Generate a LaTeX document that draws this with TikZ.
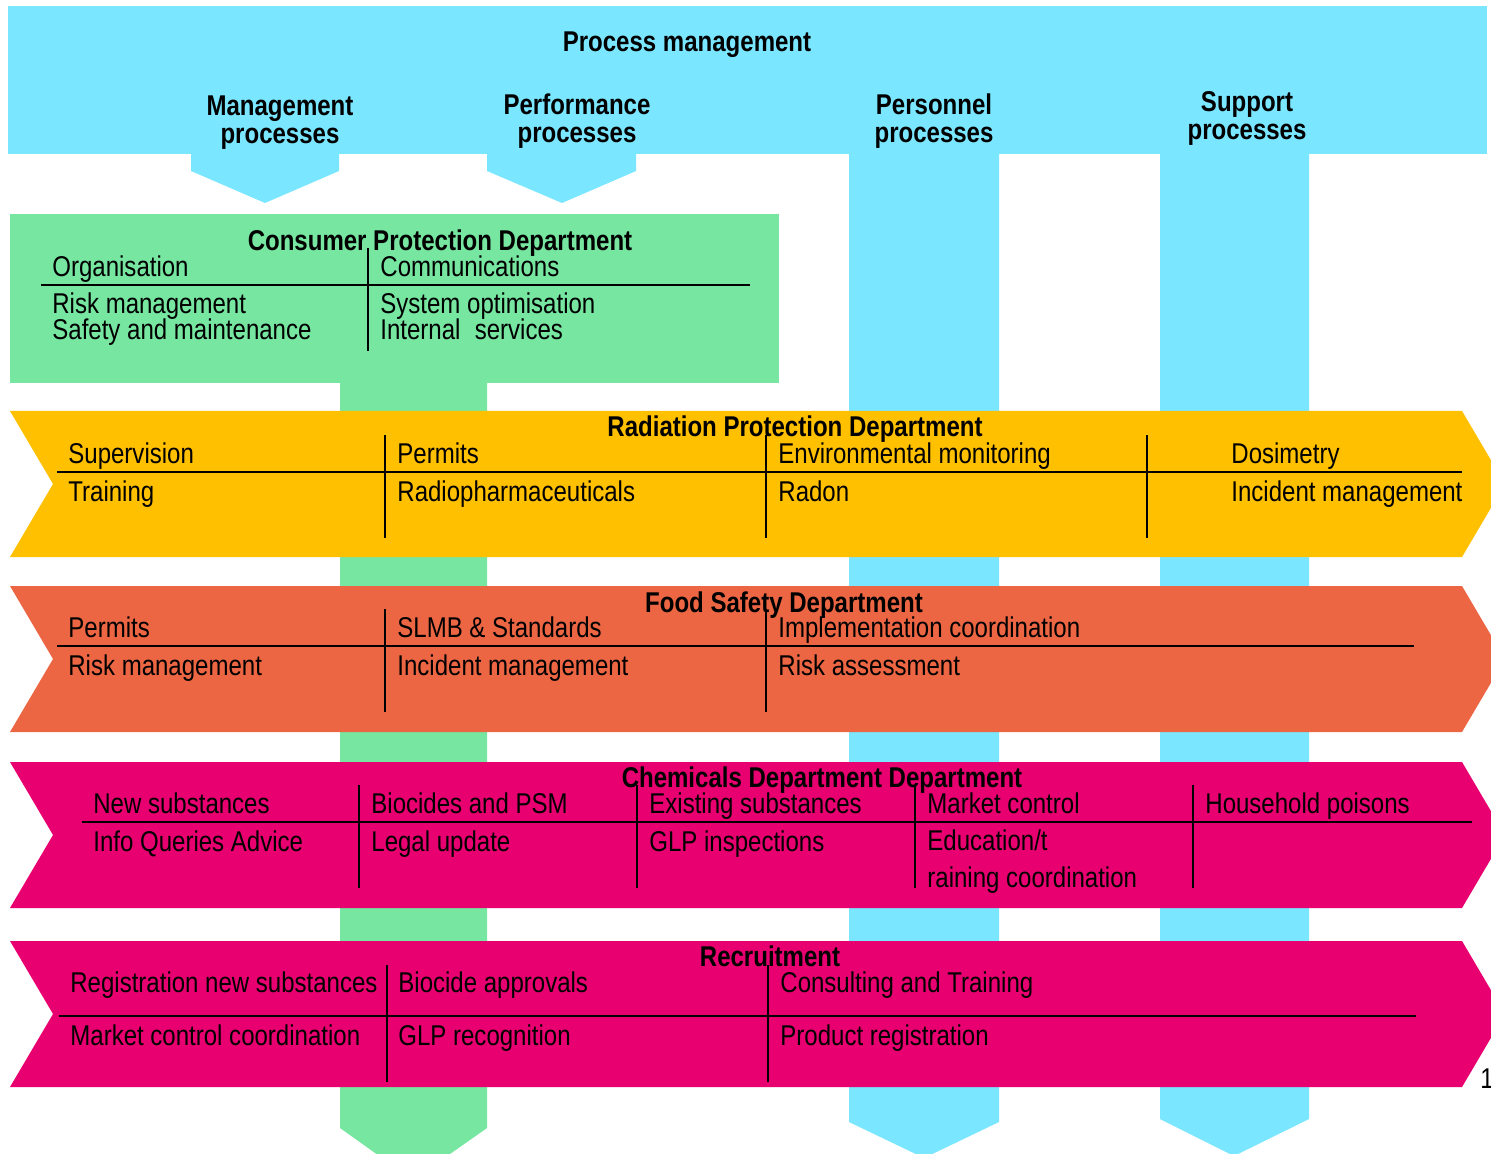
\documentclass[tikz,border=0pt]{standalone}
\usepackage{fontspec}
\setmainfont[FakeStretch=0.84]{Liberation Sans}
\usepackage{tikz}

\definecolor{procblue}{RGB}{122,230,255}
\definecolor{consgreen}{RGB}{118,230,160}
\definecolor{radyellow}{RGB}{255,192,0}
\definecolor{foodorange}{RGB}{236,102,68}
\definecolor{chemmagenta}{RGB}{232,0,112}

\tikzset{
  item/.style={anchor=base west, inner sep=0pt, font=\fontsize{14.3}{12.6}\selectfont},
  head/.style={anchor=base, inner sep=0pt, font=\fontsize{14.3}{12.6}\selectfont\bfseries},
  tab/.style={anchor=north, align=center, inner sep=0pt, font=\fontsize{14.3}{14}\selectfont\bfseries},
  divider/.style={line width=0.9pt},
}

\begin{document}
\begin{tikzpicture}[x=0.5pt, y=-0.5pt]

  \newcommand\XL{10};
  \newcommand\XN{53};
  \newcommand\XR{1462};
  \newcommand\XT{1505};

  \useasboundingbox (0,0) rectangle (1491,1154);
  \clip (0,0) rectangle (1491,1154);

  % columns behind the departments
  \fill[consgreen] (340,380) -- (487,380) -- (487,1128) -- (413,1180) -- (340,1128) -- cycle;
  \fill[procblue] (849,150) -- (999,150) -- (999,1122) -- (924,1158) -- (849,1122) -- cycle;
  \fill[procblue] (1160,150) -- (1309,150) -- (1309,1119) -- (1234,1156) -- (1160,1119) -- cycle;

  % process management
  \fill[procblue] (8,6) rectangle (1487,154);
  \fill[procblue] (191,150) -- (339,150) -- (339,171) -- (265,203) -- (191,171) -- cycle;
  \fill[procblue] (487,150) -- (636,150) -- (636,171) -- (562,203) -- (487,171) -- cycle;

  \node[head] (pm) at (687,52) {Process management};
  \node[tab] (pm-mgmt) at (280,95) {Management\\processes};
  \node[tab] (pm-perf) at (577,93) {Performance\\processes};
  \node[tab] (pm-pers) at (934,93) {Personnel\\processes};
  \node[tab] (pm-supp) at (1247,91) {Support\\processes};

  % consumer protection
  \fill[consgreen] (10,214) rectangle (779,383);
  \draw[divider] (41,285) -- (750,285);
  \draw[divider] (368,248) -- (368,351);
  \node[head] (cp) at (440,251) {Consumer Protection Department};
  \node[item] (cp-org) at (52,277) {Organisation};
  \node[item] (cp-risk) at (52,314) {Risk management};
  \node[item] (cp-safe) at (52,340) {Safety and maintenance};
  \node[item] (cp-comm) at (380,277) {Communications};
  \node[item] (cp-sys) at (380,314) {System optimisation};
  \node[item] (cp-int) at (380,340) {Internal\enspace services};

  % radiation protection
  \fill[radyellow] (\XL,411) -- (\XR,411) -- (\XT,484) -- (\XR,557) -- (\XL,557) -- (\XN,484) -- cycle;
  \draw[divider] (57,472) -- (\XR,472);
  \draw[divider] (385,435) -- (385,538);
  \draw[divider] (766,435) -- (766,538);
  \draw[divider] (1147,435) -- (1147,538);
  \node[head] (rp) at (795,437) {Radiation Protection Department};
  \node[item] (rp-sup) at (68,463) {Supervision};
  \node[item] (rp-train) at (68,501) {Training};
  \node[item] (rp-perm) at (397,463) {Permits};
  \node[item] (rp-pharm) at (397,501) {Radiopharmaceuticals};
  \node[item] (rp-env) at (778,463) {Environmental monitoring};
  \node[item] (rp-radon) at (778,501) {Radon};
  \node[item] (rp-dos) at (1231,463) {Dosimetry};
  \node[item] (rp-inc) at (1231,501) {Incident management};

  % food safety
  \fill[foodorange] (\XL,586) -- (\XR,586) -- (\XT,659) -- (\XR,732) -- (\XL,732) -- (\XN,659) -- cycle;
  \draw[divider] (57,646) -- (1414,646);
  \draw[divider] (385,609) -- (385,712);
  \draw[divider] (766,609) -- (766,712);
  \node[head] (fs) at (784,612) {Food Safety Department};
  \node[item] (fs-perm) at (68,637) {Permits};
  \node[item] (fs-risk) at (68,675) {Risk management};
  \node[item] (fs-slmb) at (397,637) {SLMB \& Standards};
  \node[item] (fs-inc) at (397,675) {Incident management};
  \node[item] (fs-impl) at (778,637) {Implementation coordination};
  \node[item] (fs-ass) at (778,675) {Risk assessment};

  % chemicals
  \fill[chemmagenta] (\XL,762) -- (\XR,762) -- (\XT,835) -- (\XR,908) -- (\XL,908) -- (\XN,835) -- cycle;
  \draw[divider] (82,822) -- (1472,822);
  \draw[divider] (359,785) -- (359,888);
  \draw[divider] (637,785) -- (637,888);
  \draw[divider] (915,785) -- (915,888);
  \draw[divider] (1193,785) -- (1193,888);
  \node[head] (ch) at (822,787) {Chemicals Department Department};
  \node[item] (ch-new) at (93,813) {New substances};
  \node[item] (ch-info) at (93,851) {Info Queries Advice};
  \node[item] (ch-bio) at (371,813) {Biocides and PSM};
  \node[item] (ch-legal) at (371,851) {Legal update};
  \node[item] (ch-exist) at (649,813) {Existing substances};
  \node[item] (ch-glp) at (649,851) {GLP inspections};
  \node[item] (ch-market) at (927,813) {Market control};
  \node[item] (ch-edu) at (927,850) {Education/t};
  \node[item] (ch-train) at (927,887) {raining coordination};
  \node[item] (ch-house) at (1205,813) {Household poisons};

  % recruitment
  \fill[chemmagenta] (\XL,941) -- (\XR,941) -- (\XT,1014) -- (\XR,1087) -- (\XL,1087) -- (\XN,1014) -- cycle;
  \draw[divider] (59,1016) -- (1416,1016);
  \draw[divider] (387,965) -- (387,1082);
  \draw[divider] (768,965) -- (768,1082);
  \node[head] (rc) at (770,966) {Recruitment};
  \node[item] (rc-reg) at (70,992) {Registration new substances};
  \node[item] (rc-market) at (70,1045) {Market control coordination};
  \node[item] (rc-bio) at (398,992) {Biocide approvals};
  \node[item] (rc-glp) at (398,1045) {GLP recognition};
  \node[item] (rc-cons) at (780,992) {Consulting and Training};
  \node[item] (rc-prod) at (780,1045) {Product registration};

  \node[item] (page) at (1480,1088) {1};

\end{tikzpicture}
\end{document}
